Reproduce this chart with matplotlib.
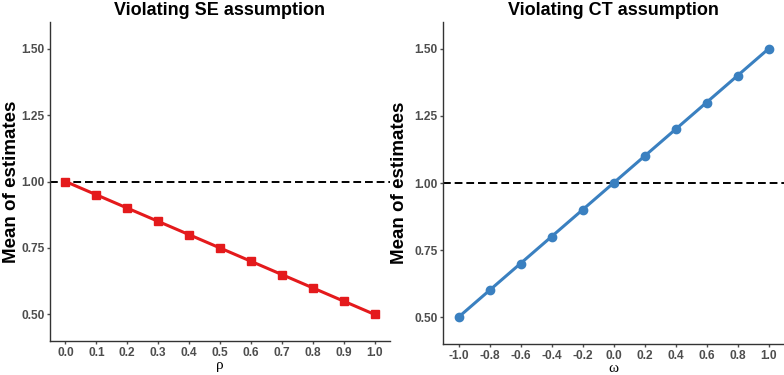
import matplotlib
matplotlib.use("Agg")
import matplotlib.pyplot as plt

rho = [0.0, 0.1, 0.2, 0.3, 0.4, 0.5, 0.6, 0.7, 0.8, 0.9, 1.0]
se_means = [1.00, 0.95, 0.90, 0.85, 0.80, 0.75, 0.70, 0.65, 0.60, 0.55, 0.50]

omega = [-1.0, -0.8, -0.6, -0.4, -0.2, 0.0, 0.2, 0.4, 0.6, 0.8, 1.0]
ct_means = [0.50, 0.60, 0.70, 0.80, 0.90, 1.00, 1.10, 1.20, 1.30, 1.40, 1.50]

yticks = [0.50, 0.75, 1.00, 1.25, 1.50]
tick_grey = "#4D4D4D"

plt.rcParams["font.family"] = ["Liberation Sans", "DejaVu Sans"]

fig = plt.figure(figsize=(7.84, 3.75), dpi=100)
ax1 = fig.add_axes([50 / 784, 1 - 341 / 375, 340 / 784, 319 / 375])
ax2 = fig.add_axes([443 / 784, 1 - 344 / 375, 341 / 784, 322 / 375])


def style(ax, xs, xlab, title, ylab_x):
    ax.axhline(1.0, color="black", linestyle=(0, (4, 2)), linewidth=1.4, zorder=1)
    ax.set_ylim(0.4, 1.6)
    ax.set_yticks(yticks)
    ax.set_yticklabels(["%.2f" % v for v in yticks])
    ax.set_xticks(xs)
    ax.set_xticklabels(["%.1f" % v for v in xs])
    for s in ["top", "right"]:
        ax.spines[s].set_visible(False)
    for s in ["left", "bottom"]:
        ax.spines[s].set_color("#333333")
        ax.spines[s].set_linewidth(1.0)
    ax.tick_params(colors=tick_grey, labelsize=8.6, length=2.5, width=1)
    ax.tick_params(axis="y", pad=1.5)
    ax.tick_params(axis="x", pad=2.0)
    for lab in ax.get_xticklabels() + ax.get_yticklabels():
        lab.set_fontweight("bold")
        lab.set_color(tick_grey)
    ax.set_ylabel("Mean of estimates", fontsize=13.5, fontweight="bold")
    ax.yaxis.set_label_coords(ylab_x, 0.5)
    ax.set_xlabel(xlab, fontsize=11, family=["Liberation Serif", "DejaVu Serif"], labelpad=0)
    ax.set_title(title, fontsize=13, fontweight="bold", pad=5)


ax1.plot(rho, se_means, color="#E41A1C", linewidth=2.2, marker="s", markersize=6, zorder=3)
ax1.set_xlim(-0.05, 1.05)
style(ax1, rho, "ρ", "Violating SE assumption", -0.088)

ax2.plot(omega, ct_means, color="#3A80C0", linewidth=2.2, marker="o", markersize=6, zorder=3)
ax2.set_xlim(-1.1, 1.1)
style(ax2, omega, "ω", "Violating CT assumption", -0.103)

fig.savefig("out.png", dpi=100)
